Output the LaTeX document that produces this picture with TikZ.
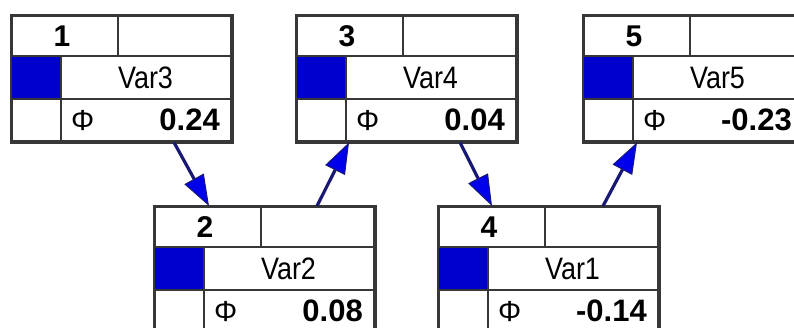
\documentclass[tikz,border=0pt]{standalone}
\usepackage{fontspec}
\setmainfont{Liberation Sans}
\usetikzlibrary{arrows.meta,calc}

\definecolor{gridline}{RGB}{55,55,55}
\definecolor{cellblue}{RGB}{0,0,205}
\definecolor{linknavy}{RGB}{25,25,115}
\definecolor{headblue}{RGB}{0,0,235}

\tikzset{
  frame/.style={draw=gridline,line width=2.4pt,fill=white,minimum width=219pt,
    minimum height=125pt,inner sep=0pt,anchor=north west,rectangle},
  inner/.style={draw=gridline,line width=2.2pt},
  numtext/.style={font=\fontsize{30}{30}\selectfont\bfseries,inner sep=0pt},
  vartext/.style={font=\fontsize{31}{31}\selectfont,inner sep=0pt},
  phitext/.style={font=\fontsize{29}{29}\selectfont,inner sep=0pt,anchor=west},
  valtext/.style={font=\fontsize{31}{31}\selectfont\bfseries,inner sep=0pt,anchor=east},
  link/.style={draw=linknavy,line width=3.2pt,
    -{Triangle[length=31pt,width=22pt,fill=headblue,line width=1pt]}},
}

% One variable box: #1 name, #2 x, #3 y, #4 index, #5 variable, #6 value
\newcommand{\netbox}[6]{%
  \node[frame] (#1) at (#2,#3) {};
  \fill[cellblue] ($(#1.north west)+(0,-41pt)$) rectangle ($(#1.north west)+(50pt,-84pt)$);
  \draw[inner] ($(#1.north west)+(0,-41pt)$) -- ($(#1.north east)+(0,-41pt)$);
  \draw[inner] ($(#1.north west)+(0,-84pt)$) -- ($(#1.north east)+(0,-84pt)$);
  \draw[inner] ($(#1.north west)+(107pt,0)$) -- ($(#1.north west)+(107pt,-41pt)$);
  \draw[inner] ($(#1.north west)+(50pt,-41pt)$) -- ($(#1.south west)+(50pt,0)$);
  \draw[draw=gridline,line width=2.4pt] (#1.north west) rectangle (#1.south east);
  \node[numtext] (#1-idx) at ($(#1.north west)+(51pt,-21pt)$) {#4};
  \node[vartext] (#1-var) at ($(#1.north west)+(134.5pt,-63pt)$) {\scalebox{0.87}[1]{#5}};
  \node[phitext] (#1-phi) at ($(#1.north west)+(60pt,-106pt)$) {Φ};
  \node[valtext] (#1-val) at ($(#1.north west)+(209pt,-105pt)$) {#6};
}

\begin{document}
\begin{tikzpicture}[x=1pt,y=-1pt]
  \useasboundingbox (0,0) rectangle (794,327);
  \clip (0,0) rectangle (794,327);
  \fill[white] (0,0) rectangle (794,327);

  \netbox{b1}{11}{15}{1}{Var3}{0.24}
  \netbox{b3}{296}{15}{3}{Var4}{0.04}
  \netbox{b5}{583}{15}{5}{Var5}{-0.23}
  \netbox{b2}{154}{206}{2}{Var2}{0.08}
  \netbox{b4}{438}{206}{4}{Var1}{-0.14}

  \draw[link] ([xshift=163pt]b1.south west) -- ([xshift=55pt]b2.north west);
  \draw[link] ([xshift=163pt]b2.north west) -- ([xshift=53pt]b3.south west);
  \draw[link] ([xshift=164pt]b3.south west) -- ([xshift=54pt]b4.north west);
  \draw[link] ([xshift=165pt]b4.north west) -- ([xshift=54pt]b5.south west);
\end{tikzpicture}
\end{document}
